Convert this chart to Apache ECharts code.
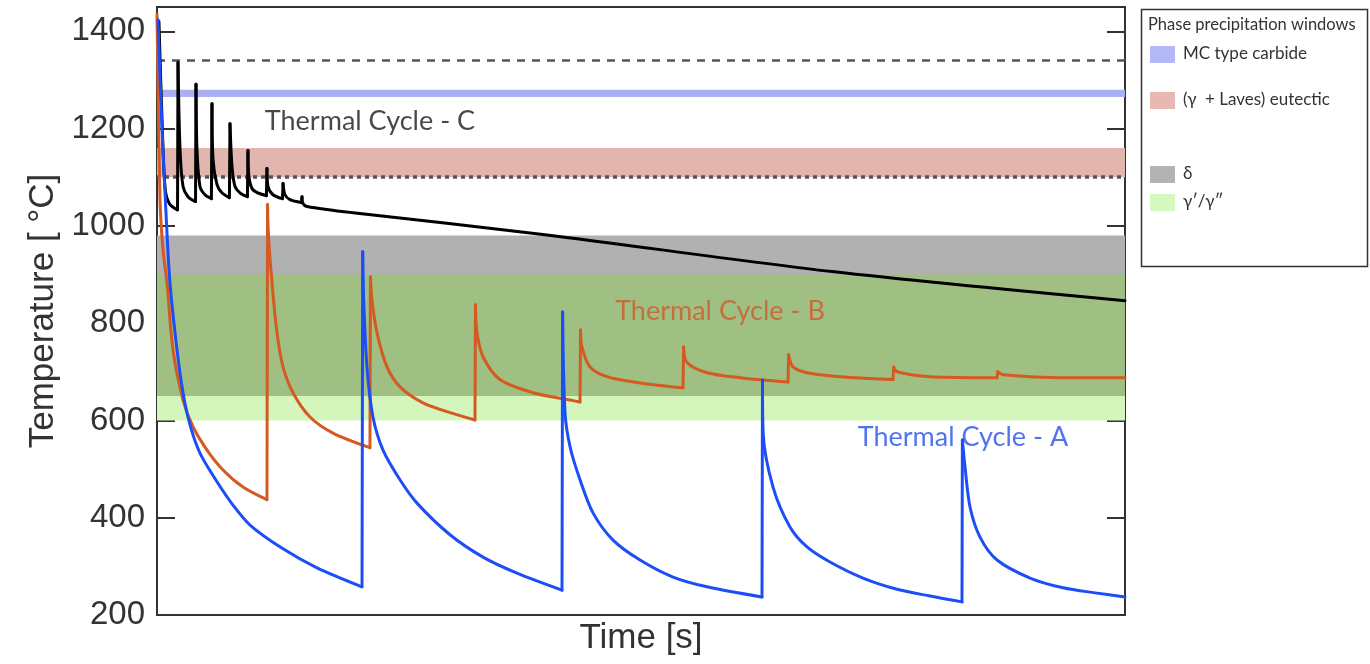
<!DOCTYPE html>
<html><head><meta charset="utf-8">
<script src="https://cdn.jsdelivr.net/npm/echarts@6/dist/echarts.min.js"></script>
<style>html,body{margin:0;padding:0;background:#fff}#c{width:1370px;height:664px}</style>
</head><body><div id="c"></div>
<script>
// ---- data ----
const cycleA = [[0.1,1424],[0.49,1212],[1.0,998],[1.34,883],[2.07,745],[2.69,657],[3.41,591],[4.44,533],[6.20,474],[7.85,426],[9.61,385],[13.02,336],[16.53,297],[21.18,258],
[21.25,947],[21.35,848],[21.69,710],[22.31,607],[23.35,539],[25.10,478],[26.86,430],[30.27,365],[33.68,319],[37.19,286],[41.84,251],
[41.9,823],[42.15,616],[42.67,546],[43.70,478],[45.04,410],[47.11,354],[49.90,313],[53.31,278],[56.82,258],[62.50,237],
[62.55,683],[62.62,574],[63.64,463],[65.39,381],[67.15,340],[69.52,309],[72.93,276],[76.45,253],[79.86,239],[83.16,227],
[83.2,560],[83.47,505],[83.99,422],[85.02,360],[86.78,313],[90.19,276],[93.60,256],[97.11,245],[100,237]];
const cycleB = [[0,1435],[0.31,1054],[0.62,951],[1.03,883],[1.65,745],[2.69,642],[3.72,587],[5.17,539],[6.82,498],[8.88,463],[11.36,437],
[11.42,1044],[11.5,986],[11.88,883],[12.40,780],[13.02,710],[14.05,657],[15.81,607],[18.18,574],[22.00,544],
[22.05,895],[22.21,848],[22.73,780],[23.76,710],[25.10,669],[27.48,636],[30.27,616],[32.85,601],
[32.9,838],[33.06,780],[33.68,731],[35.43,684],[38.84,657],[42.67,642],[43.70,638],
[43.75,786],[43.90,751],[44.73,710],[46.49,690],[49.90,677],[54.34,667],
[54.4,751],[54.75,719],[56.82,698],[60.23,688],[65.19,679],
[65.25,735],[65.70,710],[67.15,698],[70.56,690],[76.03,684],
[76.1,710],[76.45,700],[79.86,690],[86.78,688],
[86.85,700],[87.40,694],[93.60,688],[100,688]];
const cycleC = [[0.2,1420],[0.55,1200],[0.85,1075],[1.3,1045],[2.12,1033],
[2.17,1336],[2.38,1157],[2.69,1081],[3.20,1060],[3.98,1050],
[4.03,1291],[4.13,1157],[4.44,1081],[4.96,1064],[5.62,1056],
[5.68,1251],[5.79,1136],[6.20,1085],[6.71,1068],[7.48,1058],
[7.54,1210],[7.75,1122],[8.06,1081],[8.57,1068],[9.34,1060],
[9.40,1155],[9.50,1101],[9.92,1074],[11.30,1062],
[11.36,1118],[11.47,1081],[11.98,1064],[12.96,1056],
[13.02,1087],[13.22,1064],[13.74,1054],[14.92,1048],
[14.98,1060],[15.08,1046],[15.50,1040],[20.25,1027],[40.08,982],[69.73,906],[100,846]];
const yTicks = [200,400,600,800,1000,1200,1400];
const windowNames = ['MC type carbide','(\u03b3  + Laves) eutectic','\u03b4','\u03b3\u2032/\u03b3\u2033'];
const windowRanges = [[1265,1280],[1100,1160],[650,980],[600,900]];
const refLineValues = [1340, 1100];
const cycleNames = ['Thermal Cycle - C','Thermal Cycle - B','Thermal Cycle - A'];
const cycleLabelPos = [[22.0,1214],[58.16,825],[83.26,566]];

// ---- styles ----
const bandColors = ['#abb0f4','#e2b6ae','#b1b1b1','#d4f5bc'];
const overlapColor = '#a0bf82';
const swatchColors = ['#b4b8f6','#e8b8b2','#b3b3b3','#d5f7c0'];
const lineColors = {A:'#1d4ef5', B:'#d45a22', C:'#000000'};
const labelColors = ['#1a1a1a','#cf5b2b','#2451ee'];

// overlap of delta and gamma' windows
const dR = windowRanges[2], gR = windowRanges[3];
const ov = [Math.max(dR[0],gR[0]), Math.min(dR[1],gR[1])];
const bands = [
  [windowRanges[3][0], windowRanges[3][1], bandColors[3]],
  [windowRanges[2][0], windowRanges[2][1], bandColors[2]],
  [ov[0], ov[1], overlapColor],
  [windowRanges[1][0], windowRanges[1][1], bandColors[1]],
  [windowRanges[0][0], windowRanges[0][1], bandColors[0]]
];

// split each cycle into smooth cooling segments and sharp re-heating jumps
const GAP = ['-','-'];
function splitCycle(data){
  const decays=[], jumps=[];
  let cur=[data[0]];
  for(let i=1;i<data.length;i++){
    if(data[i][1] > data[i-1][1]){
      decays.push(...cur, GAP);
      jumps.push(data[i-1], data[i], GAP);
      cur=[data[i]];
    } else cur.push(data[i]);
  }
  decays.push(...cur);
  return {decays, jumps};
}

const chart = echarts.init(document.getElementById('c'));
function cycleSeries(data, color){
  const s = splitCycle(data);
  return [
    {type:'line', data:s.decays, symbol:'none', showSymbol:false, smooth:0.3, connectNulls:false,
     lineStyle:{color, width:3, cap:'round', join:'round'}, z:5, silent:true},
    {type:'line', data:s.jumps, symbol:'none', showSymbol:false, connectNulls:false,
     lineStyle:{color, width:3, cap:'round', join:'round'}, z:5, silent:true}
  ];
}

const legendRowsY = [54, 100, 174, 202];
const graphic = [
  {type:'rect', shape:{x:1141.5,y:9.5,width:226,height:257}, style:{fill:'#fff', stroke:'#333', lineWidth:1.5}},
  {type:'text', x:1148, y:25, style:{text:'Phase precipitation windows', font:'16.5px Lato', fill:'#333', verticalAlign:'middle'}}
];
windowNames.forEach((n,i)=>{
  graphic.push({type:'rect', shape:{x:1150,y:legendRowsY[i]-8,width:25,height:17}, style:{fill:swatchColors[i]}});
  graphic.push({type:'text', x:1183, y:legendRowsY[i], style:{text:n, font:'17px Lato', fill:'#333', verticalAlign:'middle'}});
});

const axisFont = 'Liberation Sans';
chart.setOption({
  animation:false,
  grid:{left:157,right:245,top:7,bottom:49,show:true,borderColor:'#333',borderWidth:2},
  xAxis:[{type:'value',min:0,max:100,axisLine:{show:false},axisTick:{show:false},axisLabel:{show:false},splitLine:{show:false},
    name:'Time [s]',nameLocation:'middle',nameGap:6,nameTextStyle:{fontSize:35,color:'#333',fontFamily:axisFont,verticalAlign:'top'}}],
  yAxis:[
    {type:'value',min:200,max:1450,interval:200,position:'left',axisLine:{show:false},
     axisTick:{show:true,inside:true,length:18,lineStyle:{color:'#333',width:2}},
     axisLabel:{fontSize:33,color:'#333',margin:12,fontFamily:axisFont,formatter:v=>yTicks.includes(v)?String(v):''},
     splitLine:{show:false},
     name:'Temperature [ \u00b0C]',nameLocation:'middle',nameGap:95,nameTextStyle:{fontSize:35,color:'#333',fontFamily:axisFont}},
    {type:'value',min:200,max:1450,interval:200,position:'right',axisLine:{show:false},
     axisTick:{show:true,inside:true,length:18,lineStyle:{color:'#333',width:2}},
     axisLabel:{show:false},splitLine:{show:false}}
  ],
  graphic,
  series:[
    {type:'line',data:[],z:1,silent:true,
     markArea:{silent:true,data:bands.map(b=>[{yAxis:b[0],itemStyle:{color:b[2]}},{yAxis:b[1]}])},
     markLine:{silent:true,symbol:'none',label:{show:false},animation:false,
       data:[{yAxis:refLineValues[0],lineStyle:{type:[8,7],color:'#555',width:2.5}},
             {yAxis:refLineValues[1],lineStyle:{type:[4,4],color:'#555',width:3.5}}]}},
    ...cycleSeries(cycleC, lineColors.C),
    ...cycleSeries(cycleB, lineColors.B),
    ...cycleSeries(cycleA, lineColors.A),
    {type:'scatter',symbolSize:0,z:6,silent:true,
     data:cycleNames.map((n,i)=>({value:cycleLabelPos[i],label:{show:true,formatter:n,color:labelColors[i]}})),
     label:{show:true,position:'inside',fontSize:27,fontFamily:'Lato'}}
  ]
});
</script></body></html>
